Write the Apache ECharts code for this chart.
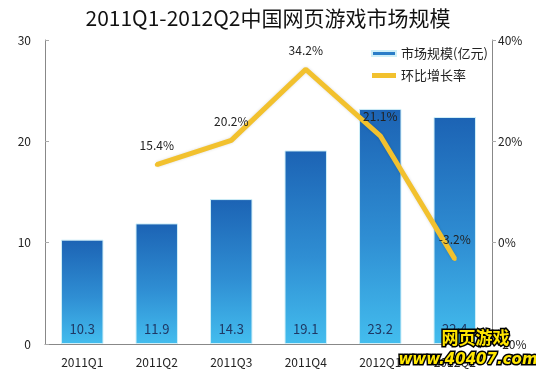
<!DOCTYPE html>
<html>
<head>
<meta charset="utf-8">
<script src="https://cdn.jsdelivr.net/npm/echarts@6/dist/echarts.min.js"></script>
<style>html,body{margin:0;padding:0;background:#fff;}#c{width:536px;height:376px;}</style>
</head>
<body>
<div id="c"></div>
<script>
const categories = ['2011Q1','2011Q2','2011Q3','2011Q4','2012Q1','2012Q2'];
const marketSize = [10.3, 11.9, 14.3, 19.1, 23.2, 22.4];
const growthRate = [null, 15.4, 20.2, 34.2, 21.1, -3.2];
const leftTicks = {min: 0, max: 30, interval: 10};
const rightTicks = {min: -20, max: 40, interval: 20};

const font = '"Noto Sans CJK SC", "Noto Sans", sans-serif';
const chart = echarts.init(document.getElementById('c'));
const barGrad = new echarts.graphic.LinearGradient(0, 0, 0, 1, [
  {offset: 0, color: '#1C63B4'},
  {offset: 0.55, color: '#2F8ED3'},
  {offset: 1, color: '#43BDEE'}
]);
chart.setOption({
  animation: false,
  textStyle: {fontFamily: font},
  title: {
    text: '2011Q1-2012Q2中国网页游戏市场规模',
    left: 'center', top: 3,
    textStyle: {fontSize: 21, fontWeight: 'normal', color: '#111', fontFamily: font}
  },
  legend: {
    orient: 'vertical', left: 366, top: 42, itemWidth: 24, itemHeight: 5, itemGap: 9,
    textStyle: {fontSize: 13, color: '#222', fontFamily: font},
    data: [
      {name: '市场规模(亿元)', icon: 'rect', itemStyle: {color: '#2A7DC8'}},
      {name: '环比增长率', icon: 'rect', itemStyle: {color: '#F2C12E'}}
    ]
  },
  grid: {left: 45, right: 44, top: 40, bottom: 32},
  xAxis: {
    type: 'category', data: categories,
    axisLine: {lineStyle: {color: '#888'}},
    axisTick: {show: false},
    axisLabel: {color: '#222', fontSize: 12, margin: 12}
  },
  yAxis: [
    {type: 'value', min: leftTicks.min, max: leftTicks.max, interval: leftTicks.interval,
     axisLine: {show: true, lineStyle: {color: '#888'}},
     axisTick: {show: true, inside: true, length: 4, lineStyle: {color: '#aaa'}},
     splitLine: {show: false},
     axisLabel: {color: '#222', fontSize: 12, margin: 14}},
    {type: 'value', min: rightTicks.min, max: rightTicks.max, interval: rightTicks.interval,
     axisLine: {show: true, lineStyle: {color: '#888'}},
     axisTick: {show: true, length: 4, lineStyle: {color: '#aaa'}},
     splitLine: {show: false},
     axisLabel: {color: '#222', fontSize: 12, margin: 6, formatter: '{value}%'}}
  ],
  series: [
    {name: '市场规模(亿元)', type: 'bar', data: marketSize, barWidth: '57%',
     itemStyle: {color: barGrad, borderColor: '#CFEFF8', borderWidth: 1},
     label: {show: true, position: 'insideBottom', distance: 8, color: '#1F3864', fontSize: 13}},
    {name: '环比增长率', type: 'line', yAxisIndex: 1, data: growthRate,
     symbol: 'circle', symbolSize: 4, showSymbol: true,
     lineStyle: {color: '#F2C12E', width: 5, shadowColor: 'rgba(0,0,0,0.15)', shadowBlur: 3},
     itemStyle: {color: '#F2C12E'},
     label: {show: true, position: 'top', distance: 11, color: '#222', fontSize: 12, formatter: '{c}%'}}
  ],
  graphic: [
    {type: 'text', left: 440, top: 328, z: 100,
     style: {text: '网页游戏', font: 'bold 17px "Noto Sans CJK SC"', fill: '#FFE600', stroke: '#000', lineWidth: 3}},
    {type: 'text', left: 397, top: 351, z: 100,
     style: {text: 'www.40407.com', font: 'italic bold 15px "DejaVu Sans"', fill: '#FFE600', stroke: '#000', lineWidth: 3}}
  ]
});
</script>
</body>
</html>
